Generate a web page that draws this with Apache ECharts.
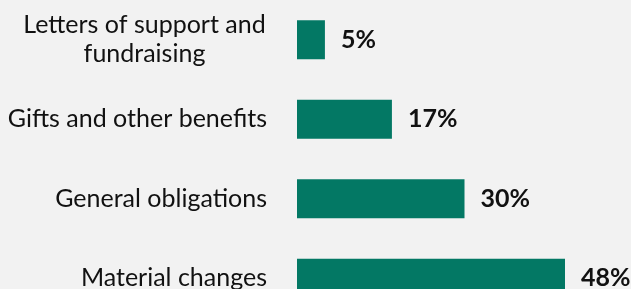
<!DOCTYPE html>
<html>
<head>
<meta charset="utf-8">
<script src="https://cdn.jsdelivr.net/npm/echarts@6/dist/echarts.min.js"></script>
<style>
  html, body { margin: 0; padding: 0; background: #f2f2f2; }
  #chart { width: 631px; height: 289px; }
</style>
</head>
<body>
<div id="chart"></div>
<script>
  // categories top to bottom, share of items (%)
  var categories = ['Letters of support and\nfundraising', 'Gifts and other benefits', 'General obligations', 'Material changes']
  var values = [5, 17, 30, 48]

  var chart = echarts.init(document.getElementById('chart'))
  chart.setOption({
    backgroundColor: '#f2f2f2',
    textStyle: { fontFamily: 'Lato' },
    grid: {
      left: 297,
      top: 0,
      width: 335,
      height: 318,
      outerBoundsMode: 'none',
      containLabel: false
    },
    xAxis: {
      type: 'value',
      min: 0,
      max: 60,
      show: false
    },
    yAxis: {
      type: 'category',
      inverse: true,
      data: categories,
      axisLine: { show: false },
      axisTick: { show: false },
      axisLabel: {
        margin: 30,
        color: '#111',
        fontSize: 25,
        fontFamily: 'Lato',
        lineHeight: 29,
        formatter: function (v) {
          if (v.indexOf('\n') >= 0) {
            var parts = v.split('\n')
            return '{c|' + parts[0] + '}\n{c|' + parts[1] + '}'
          }
          return v
        },
        rich: {
          c: { width: 245, align: 'center', fontSize: 25, lineHeight: 29, color: '#111', fontFamily: 'Lato' }
        }
      }
    },
    series: [
      {
        type: 'bar',
        data: values,
        barWidth: 39,
        itemStyle: { color: '#037864' },
        label: {
          show: true,
          position: 'right',
          distance: 16,
          formatter: '{c}%',
          color: '#111',
          fontWeight: 'bold',
          fontSize: 25,
          fontFamily: 'Lato'
        }
      }
    ]
  })
</script>
</body>
</html>
